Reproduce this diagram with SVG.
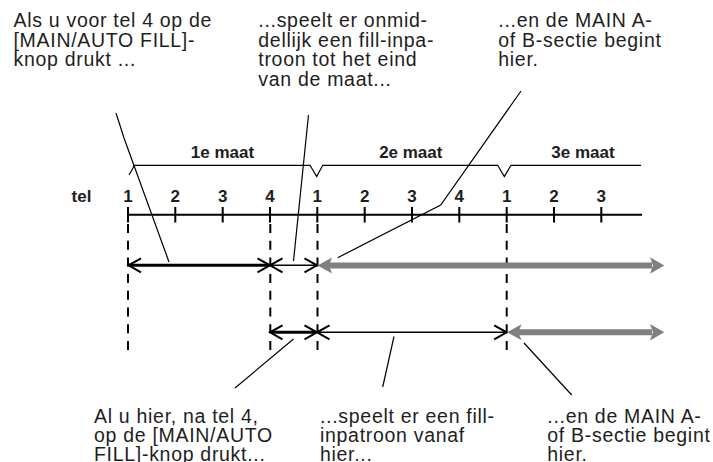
<svg xmlns="http://www.w3.org/2000/svg" width="713" height="462" viewBox="0 0 713 462">
<style>
.t{font-family:"Liberation Sans",Arial,sans-serif;font-size:19.5px;letter-spacing:0.7px;fill:#1e1e1e}
.b{font-family:"Liberation Sans",Arial,sans-serif;font-size:17px;font-weight:bold;fill:#1e1e1e;text-anchor:middle}
.ax{stroke:#000;stroke-width:2;fill:none}
.dash{stroke:#000;stroke-width:2;stroke-dasharray:9 7.7;fill:none}
.lead{stroke:#000;stroke-width:1.2;fill:none}
.thick{stroke:#000;stroke-width:3;fill:none}
.thin{stroke:#000;stroke-width:1.4;fill:none}
.head{stroke:#000;stroke-width:2;fill:none;stroke-linejoin:miter}
.gray{stroke:#808080;stroke-width:6;fill:none}
.gh{fill:#808080}
</style>
<rect width="713" height="462" fill="#fff"/>

<g id="timeline">
  <text class="b" x="81.5" y="202">tel</text>
  <path class="ax" d="M128,214.7 H642 M128,207 V222.5 M175.3,207 V222.5 M222.7,207 V222.5 M270,207 V222.5 M317.3,207 V222.5 M364.7,207 V222.5 M412,207 V222.5 M459.3,207 V222.5 M506.7,207 V222.5 M554,207 V222.5 M601.3,207 V222.5"/>
  <text class="b" x="128" y="202">1</text>
  <text class="b" x="175.3" y="202">2</text>
  <text class="b" x="222.7" y="202">3</text>
  <text class="b" x="270" y="202">4</text>
  <text class="b" x="317.3" y="202">1</text>
  <text class="b" x="364.7" y="202">2</text>
  <text class="b" x="412" y="202">3</text>
  <text class="b" x="459.3" y="202">4</text>
  <text class="b" x="506.7" y="202">1</text>
  <text class="b" x="554" y="202">2</text>
  <text class="b" x="601.3" y="202">3</text>
</g>

<g id="measures">
  <path class="lead" d="M129,175 L134.5,165.3 H310 L316.7,176.5 L322.7,165.3 H497.7 L504.3,176.5 L511,165.3 H641"/>
  <text class="b" x="222.5" y="157.5">1e maat</text>
  <text class="b" x="410.8" y="157.5">2e maat</text>
  <text class="b" x="583" y="157.5">3e maat</text>
</g>

<g id="gridlines">
  <path class="dash" d="M128,224 V350 M270.3,224 V350 M317.5,224 V350 M506.7,224 V350"/>
</g>

<g id="row1">
  <path class="thick" d="M129,265.3 H269"/>
  <path class="thin" d="M271,265.3 H316"/>
  <path class="head" d="M141,258.3 L128.5,265.3 L141,272.3 M257.5,258.3 L270,265.3 L257.5,272.3 M282.5,258.3 L270,265.3 L282.5,272.3 M304.5,258.3 L317,265.3 L304.5,272.3"/>
  <path class="gray" d="M326,265.5 H652"/>
  <path class="gh" d="M317.5,265.5 L332,257.5 L329,265.5 L332,273.5 Z M664.3,265.5 L650,257.3 L653,265.5 L650,273.7 Z"/>
</g>

<g id="row2">
  <path class="thick" d="M271,332.3 H316"/>
  <path class="thin" d="M318,332.3 H506"/>
  <path class="head" d="M282.5,325.3 L270,332.3 L282.5,339.3 M304.5,325.3 L317,332.3 L304.5,339.3 M329.5,325.3 L317,332.3 L329.5,339.3 M494.2,325.3 L506.7,332.3 L494.2,339.3"/>
  <path class="gray" d="M516,332.3 H652"/>
  <path class="gh" d="M507,332.3 L521.5,324.3 L518.5,332.3 L521.5,340.3 Z M664.3,332.3 L650,324.1 L653,332.3 L650,340.5 Z"/>
</g>

<g id="connectors">
  <path class="lead" d="M116,113 L124,138 L169,262"/>
  <path class="lead" d="M308.5,115 L293.5,261"/>
  <path class="lead" d="M521,91 L440.7,205 L337.7,257.7"/>
  <path class="lead" d="M235,388 L293.5,339"/>
  <path class="lead" d="M382.7,387 L394,336.5"/>
  <path class="lead" d="M571.7,395 L524,343"/>
</g>

<g id="note-top-1">
  <text class="t" x="13.5" y="27">Als u voor tel 4 op de</text>
  <text class="t" x="13.5" y="46.5">[MAIN/AUTO FILL]-</text>
  <text class="t" x="13.5" y="66">knop drukt ...</text>
</g>
<g id="note-top-2">
  <text class="t" x="258.3" y="27">...speelt er onmid-</text>
  <text class="t" x="258.3" y="46.5">dellijk een fill-inpa-</text>
  <text class="t" x="258.3" y="66">troon tot het eind</text>
  <text class="t" x="258.3" y="85.5">van de maat...</text>
</g>
<g id="note-top-3">
  <text class="t" x="498.3" y="27">...en de MAIN A-</text>
  <text class="t" x="498.3" y="46.5">of B-sectie begint</text>
  <text class="t" x="498.3" y="66">hier.</text>
</g>
<g id="note-bottom-1">
  <text class="t" x="94" y="423">Al u hier, na tel 4,</text>
  <text class="t" x="94" y="442">op de [MAIN/AUTO</text>
  <text class="t" x="94" y="461">FILL]-knop drukt...</text>
</g>
<g id="note-bottom-2">
  <text class="t" x="320" y="423">...speelt er een fill-</text>
  <text class="t" x="320" y="442">inpatroon vanaf</text>
  <text class="t" x="320" y="461">hier...</text>
</g>
<g id="note-bottom-3">
  <text class="t" x="547.3" y="423">...en de MAIN A-</text>
  <text class="t" x="547.3" y="442">of B-sectie begint</text>
  <text class="t" x="547.3" y="461">hier.</text>
</g>
</svg>
